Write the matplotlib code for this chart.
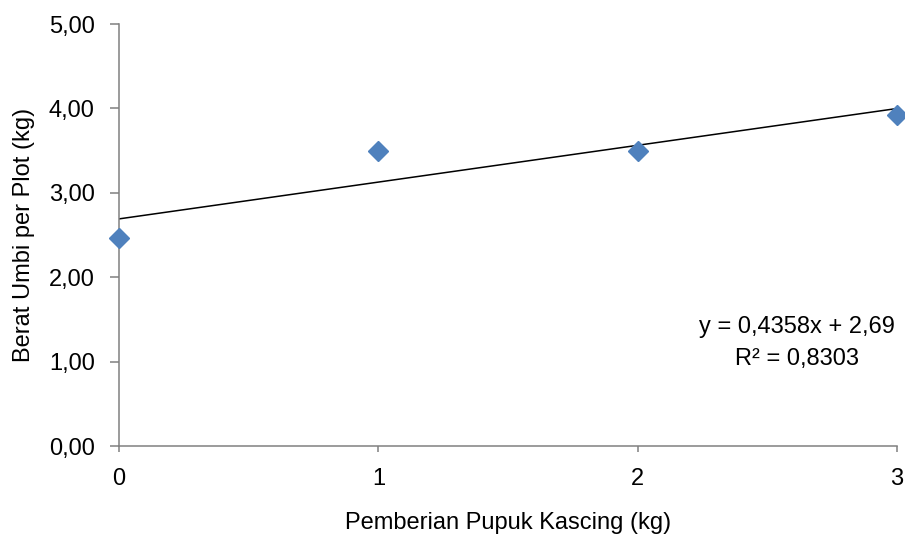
import matplotlib.pyplot as plt
import numpy as np

# dosis kascing (kg) vs berat umbi per plot (kg)
dosis = [0, 1, 2, 3]
berat = [2.47, 3.49, 3.50, 3.92]
yticks = [0, 1, 2, 3, 4, 5]
ytick_labels = ["0,00", "1,00", "2,00", "3,00", "4,00", "5,00"]
eq_text = "y = 0,4358x + 2,69\nR² = 0,8303"

plt.rcParams['font.family'] = ['Liberation Sans', 'DejaVu Sans']

fig = plt.figure(figsize=(9.05, 5.36), dpi=100)
ax = fig.add_axes([0.1315, 0.1679, 0.8597, 0.7873])

# garis tren linier
m, c = np.polyfit(dosis, berat, 1)
xs = np.array([0, 3])
ax.plot(xs, m * xs + c, color='black', lw=1.1, zorder=2)
ax.plot(dosis, berat, 'D', color='#4F81BD', markersize=10, mec='#4F81BD',
        clip_on=False, zorder=3)

ax.set_xlim(0, 3)
ax.set_ylim(0, 5)
ax.set_xticks(dosis)
ax.set_yticks(yticks)
ax.set_yticklabels(ytick_labels)

for s in ['top', 'right']:
    ax.spines[s].set_visible(False)
for s in ['left', 'bottom']:
    ax.spines[s].set_color('#808080')
    ax.spines[s].set_linewidth(1.1)
ax.tick_params(axis='y', direction='out', length=6.5, width=1.1, color='#808080',
               pad=11, labelsize=17)
ax.tick_params(axis='x', direction='out', length=4.5, width=1.1, color='#808080',
               pad=11, labelsize=17)

ax.set_xlabel("Pemberian Pupuk Kascing (kg)", fontsize=17, labelpad=16)
ax.set_ylabel("Berat Umbi per Plot (kg)", fontsize=17, labelpad=10)

ax.text(2.615, 1.22, eq_text, ha='center', va='center', fontsize=17,
        linespacing=1.6)

fig.savefig("out.png", dpi=100)
